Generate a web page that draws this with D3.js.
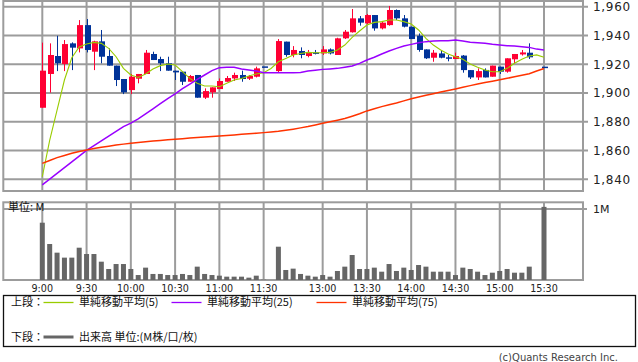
<!DOCTYPE html>
<html><head><meta charset="utf-8">
<script src="https://cdn.jsdelivr.net/npm/d3@7"></script>
<style>body{margin:0;background:#fff}svg{display:block}</style>
</head><body><div id="chart"></div>
<script>
const times = ["9:00","9:05","9:10","9:15","9:20","9:25","9:30","9:35","9:40","9:45","9:50","9:55",
"10:00","10:05","10:10","10:15","10:20","10:25","10:30","10:35","10:40","10:45","10:50","10:55",
"11:00","11:05","11:10","11:15","11:20","11:25","11:30","12:25",
"12:30","12:35","12:40","12:45","12:50","12:55","13:00","13:05","13:10","13:15","13:20","13:25",
"13:30","13:35","13:40","13:45","13:50","13:55","14:00","14:05","14:10","14:15","14:20","14:25",
"14:30","14:35","14:40","14:45","14:50","14:55","15:00","15:05","15:10","15:15","15:20","15:25","15:30"];
const opens = [1889.7,1913.2,1925.7,1920.1,1934.5,1931,1947.2,1928.7,1935.9,1925.7,1919,1909.7,1902,1909.9,1913.2,1927.1,1923.6,1920.6,1915.5,1914.8,1907.8,1912.5,1896.7,1900.4,1902.7,1907.8,1910.1,1912.5,1909.9,1911.3,1918.5,null,
1915.2,1935.7,1926.4,1929.2,1925.7,1928.2,1927.5,1930.3,1926.4,1938,1942.2,1951.9,1948.4,1954.2,1944.9,1947.2,1957.7,1951.9,1946.1,1939.8,1930.3,1924.5,1927.5,1924.8,1923.6,1926,1915.9,1910.8,1916,1911.3,1918.3,1914.8,1923.4,1926.8,1928,null,1918.3];
const highs = [1935,1934.5,1939.8,1936.8,1935.2,1950.7,1951.4,1936.3,1943.8,1931,1919,1909.7,1913.2,1913.2,1929.9,1928.7,1925.2,1925.2,1915.5,1914.8,1912.5,1912.5,1903.2,1903.9,1910.1,1911.8,1914.1,1915.5,1912.5,1918.3,1918.5,null,
1937.5,1935.7,1932.6,1931.7,1929.9,1929.9,1932.6,1931,1938.4,1943.8,1958.4,1953.5,1954.9,1954.2,1949.6,1960.5,1958.1,1954.2,1946.1,1941.4,1930.3,1929.9,1929.9,1926.4,1928,1926.4,1915.9,1917.1,1917.1,1919,1918.3,1924.1,1927.1,1929.9,1934.5,null,1918.3];
const lows = [1889.7,1900.2,1915.2,1915.2,1915.9,1928.2,1928.2,1915.9,1920.6,1919,1904.8,1899.2,1899.2,1906.7,1913.2,1922.9,1915.2,1915.5,1909,1905.5,1907.8,1896.7,1895.8,1896.7,1902.7,1907.8,1908.3,1907.8,1909,1910.8,1918.5,null,
1914.1,1925.2,1924.8,1924.1,1924.8,1926.8,1926.4,1926.8,1926.4,1937.5,1942,1946.8,1948,1943.3,1944.2,1946.8,1950.7,1945.6,1937.5,1928.7,1923.6,1921.7,1924.1,1922,1923.6,1914.1,1909.7,1909,1910.8,1911.3,1913.2,1914.1,1920.6,1926,1923.6,null,1918.3];
const closes = [1915.5,1926.4,1920.6,1934,1931.5,1947.2,1929.9,1935.9,1925.2,1919,1909,1900.4,1911.3,1913.2,1928,1922.9,1920.6,1915.5,1914.3,1907.8,1911.8,1896.7,1901.3,1903.9,1908.3,1910.4,1912.5,1909.7,1911.8,1917.1,1918.5,null,
1936.1,1926.4,1929.9,1926.4,1928.2,1927.8,1930.3,1927.5,1938,1942.6,1951.9,1948.9,1954.2,1944.9,1948.9,1957.7,1951.9,1946.1,1937.5,1929.9,1924.1,1928,1924.5,1924.6,1925.7,1915.9,1910.8,1915.2,1910.8,1919,1914.8,1924.1,1927.1,1928.2,1924.8,null,1918.3];
const volumes = [0.807,0.507,0.385,0.315,0.315,0.455,0.366,0.366,0.258,0.155,0.225,0.225,0.155,0.07,0.174,0.085,0.085,0.07,0.07,0.085,0.07,0.188,0.085,0.07,0.061,0.047,0.047,0.047,0.033,0.061,0.005,null,
0.469,0.141,0.16,0.085,0.061,0.047,0.07,0.047,0.127,0.188,0.352,0.155,0.155,0.174,0.117,0.225,0.127,0.174,0.141,0.211,0.188,0.117,0.117,0.117,0.07,0.174,0.155,0.117,0.07,0.103,0.127,0.155,0.103,0.103,0.188,null,1.03];
const ma5 = [1841.7,1867,1888,1909,1924.5,1932,1934,1935.2,1934.5,1931,1925.2,1917.1,1912.5,1910.8,1913.2,1916.6,1919,1920.1,1919.4,1914.8,1910.1,1906.7,1904.8,1904.8,1904.3,1906.7,1909,1910.1,1911.8,1913.2,1914,1917,
1921.7,1924,1926.4,1927.5,1928.2,1928,1928,1928.2,1929.9,1933.3,1938.7,1943.1,1947.2,1949.1,1949.6,1950.7,1950.7,1949.6,1947.9,1943.8,1938,1933.3,1929.9,1927.1,1925.2,1923.4,1920.1,1917.8,1915.9,1914.8,1914.8,1917.1,1920.6,1923.4,1925.7,1926.5,1924.8];
const ma25 = [1836,1840,1844,1848,1852,1856,1860,1863.3,1866.6,1870,1873.3,1876.6,1879,1882,1885.5,1889,1892.5,1896,1899.3,1903,1906.2,1909.5,1912.5,1915.5,1917.6,1917.8,1917.8,1916.6,1915.9,1915.2,1914.1,1914.1,
1914.1,1914.1,1914.1,1914.3,1915.2,1915.8,1916.4,1916.7,1917.1,1917.9,1918.7,1920.6,1922.9,1924.8,1927.1,1929.2,1931,1932.6,1933.8,1934.9,1935.7,1936.1,1936.3,1936.3,1936.8,1936.1,1935.2,1934.9,1934.5,1933.8,1933.3,1932.9,1932.6,1932.2,1931.7,1930.5,1929.9];
const ma75 = [1851,1853,1855,1856.5,1858,1859.3,1860.3,1861.3,1862.2,1863,1863.8,1864.4,1865,1865.5,1866,1866.5,1867,1867.4,1867.8,1868.2,1868.6,1869,1869.4,1869.7,1870,1870.4,1870.8,1871.2,1871.6,1872,1872.4,1872.8,
1873.3,1874,1874.8,1875.7,1876.6,1877.7,1878.9,1879.9,1881,1882.2,1883.8,1885.5,1887.5,1889,1890.5,1891.8,1893,1894.5,1896,1897.2,1898.4,1899.5,1900.6,1901.7,1902.8,1904,1905.1,1906.2,1907.2,1908.2,1909.2,1910.2,1911.2,1912.3,1913.4,1915.3,1917];
const tickTimes = ["9:00","9:30","10:00","10:30","11:00","11:30","13:00","13:30","14:00","14:30","15:00","15:30"];
const priceTicks = [1840,1860,1880,1900,1920,1940,1960];
const legendItems = [
  {label:"単純移動平均(5)", color:"#99cc00"},
  {label:"単純移動平均(25)", color:"#9900ff"},
  {label:"単純移動平均(75)", color:"#ff3300"}
];

const svg = d3.select("#chart").append("svg").attr("width",638).attr("height",362);
const grid = "#9c9c9c";
const x = d3.scalePoint().domain(times).range([42.3, 544]);
const y = d3.scaleLinear().domain([1840,1960]).range([179.2, 6.7]);
const yv = d3.scaleLinear().domain([0,1]).range([280, 209]);
const L = 3.3, R = 583, T = 1, B = 191, VT = 202.3, VB = 280;
const fmt = d3.format(",");
const numFont = "DejaVu Sans, Verdana, sans-serif";
const jpFont = "'Noto Sans CJK JP', sans-serif";

// main grid
svg.append("g").selectAll("line").data(priceTicks).join("line")
  .attr("x1",L).attr("x2",R+5).attr("y1",d=>y(d)).attr("y2",d=>y(d))
  .attr("stroke",grid).attr("stroke-width",2);
svg.append("g").selectAll("line").data(tickTimes).join("line")
  .attr("x1",d=>x(d)).attr("x2",d=>x(d)).attr("y1",T).attr("y2",B)
  .attr("stroke",grid).attr("stroke-width",2);
svg.append("rect").attr("x",L).attr("y",T).attr("width",R-L).attr("height",B-T)
  .attr("fill","none").attr("stroke",grid).attr("stroke-width",2);
svg.append("g").selectAll("text").data(priceTicks).join("text")
  .attr("x",593).attr("y",d=>y(d)).attr("dy","0.36em")
  .attr("font-family",numFont).attr("font-size",12).attr("letter-spacing",0.7).attr("fill","#222")
  .text(d=>fmt(d));

// volume grid
svg.append("g").selectAll("line").data(tickTimes).join("line")
  .attr("x1",d=>x(d)).attr("x2",d=>x(d)).attr("y1",VT).attr("y2",VB)
  .attr("stroke",grid).attr("stroke-width",2);
svg.append("line").attr("x1",L).attr("x2",R+4).attr("y1",yv(1)).attr("y2",yv(1))
  .attr("stroke",grid).attr("stroke-width",2);
svg.append("rect").attr("x",L).attr("y",VT).attr("width",R-L).attr("height",VB-VT)
  .attr("fill","none").attr("stroke",grid).attr("stroke-width",2);
svg.append("text").attr("x",593).attr("y",yv(1)).attr("dy","0.36em")
  .attr("font-family",numFont).attr("font-size",11).attr("fill","#222").text("1M");
svg.append("text").attr("x",8).attr("y",207.5).attr("dy","0.36em")
  .attr("font-family",jpFont).attr("font-size",11).attr("fill","#111").text("単位: M");

// volume bars
const vdata = times.map((t,i)=>({t, v:volumes[i]})).filter(d=>d.v!=null);
svg.append("g").selectAll("rect").data(vdata).join("rect")
  .attr("x",d=>x(d.t)-2.5).attr("width",5)
  .attr("y",d=>yv(d.v)).attr("height",d=>Math.max(0, yv(0)-yv(d.v)))
  .attr("fill","#666");

// time labels
svg.append("g").selectAll("text").data(tickTimes).join("text")
  .attr("x",d=>x(d)).attr("y",291.5).attr("text-anchor","middle")
  .attr("font-family",numFont).attr("font-size",9.6).attr("fill","#222").text(d=>d);

// candles
const cdata = times.map((t,i)=>({t,o:opens[i],h:highs[i],l:lows[i],c:closes[i]})).filter(d=>d.o!=null);
const col = d=> d.c>d.o ? "#ff0033" : "#003399";
const cg = svg.append("g");
cg.selectAll("line").data(cdata).join("line")
  .attr("x1",d=>Math.round(x(d.t))+0.5).attr("x2",d=>Math.round(x(d.t))+0.5)
  .attr("y1",d=>y(d.h)).attr("y2",d=>y(d.l))
  .attr("stroke",col).attr("stroke-width",1);
cg.selectAll("rect").data(cdata).join("rect")
  .attr("x",d=>Math.round(x(d.t))-2).attr("width",6)
  .attr("y",d=>Math.min(y(d.o),y(d.c))).attr("height",d=>Math.max(1.5,Math.abs(y(d.o)-y(d.c))))
  .attr("fill",col);

// moving averages
const maSeries = [ma5, ma25, ma75];
const widths = [1.1, 1.5, 1.5];
maSeries.forEach((arr,k)=>{
  const pts = times.map((t,i)=>({t,v:arr[i]})).filter(d=>d.v!=null);
  svg.append("path").datum(pts)
    .attr("d", d3.line().x(d=>x(d.t)).y(d=>y(d.v)))
    .attr("fill","none").attr("stroke",legendItems[k].color).attr("stroke-width",widths[k]);
});

// legend
svg.append("rect").attr("x",3.5).attr("y",295.5).attr("width",632).attr("height",51)
  .attr("fill","none").attr("stroke","#111").attr("stroke-width",1.3);
svg.append("text").attr("x",11).attr("y",302.5).attr("dy","0.36em")
  .attr("font-family",jpFont).attr("font-size",11).attr("fill","#111").text("上段：");
svg.append("text").attr("x",11).attr("y",337).attr("dy","0.36em")
  .attr("font-family",jpFont).attr("font-size",11).attr("fill","#111").text("下段：");
const lx = [43.5, 171.5, 316.5];
legendItems.forEach((it,k)=>{
  svg.append("line").attr("x1",lx[k]).attr("x2",lx[k]+30).attr("y1",302.5).attr("y2",302.5)
    .attr("stroke",it.color).attr("stroke-width",1.3);
  svg.append("text").attr("x",lx[k]+35.5).attr("y",302.5).attr("dy","0.36em")
    .attr("font-family",jpFont).attr("font-size",11).attr("fill","#111").text(it.label);
});
svg.append("line").attr("x1",43.5).attr("x2",73.5).attr("y1",337).attr("y2",337)
  .attr("stroke","#666").attr("stroke-width",3);
svg.append("text").attr("x",79).attr("y",337).attr("dy","0.36em")
  .attr("font-family",jpFont).attr("font-size",11).attr("fill","#111").text("出来高 単位:(M株/口/枚)");
svg.append("text").attr("x",618).attr("y",357.5).attr("dy","0.36em").attr("text-anchor","end")
  .attr("font-family",numFont).attr("font-size",10).attr("fill","#444").text("(c)Quants Research Inc.");
</script></body></html>
